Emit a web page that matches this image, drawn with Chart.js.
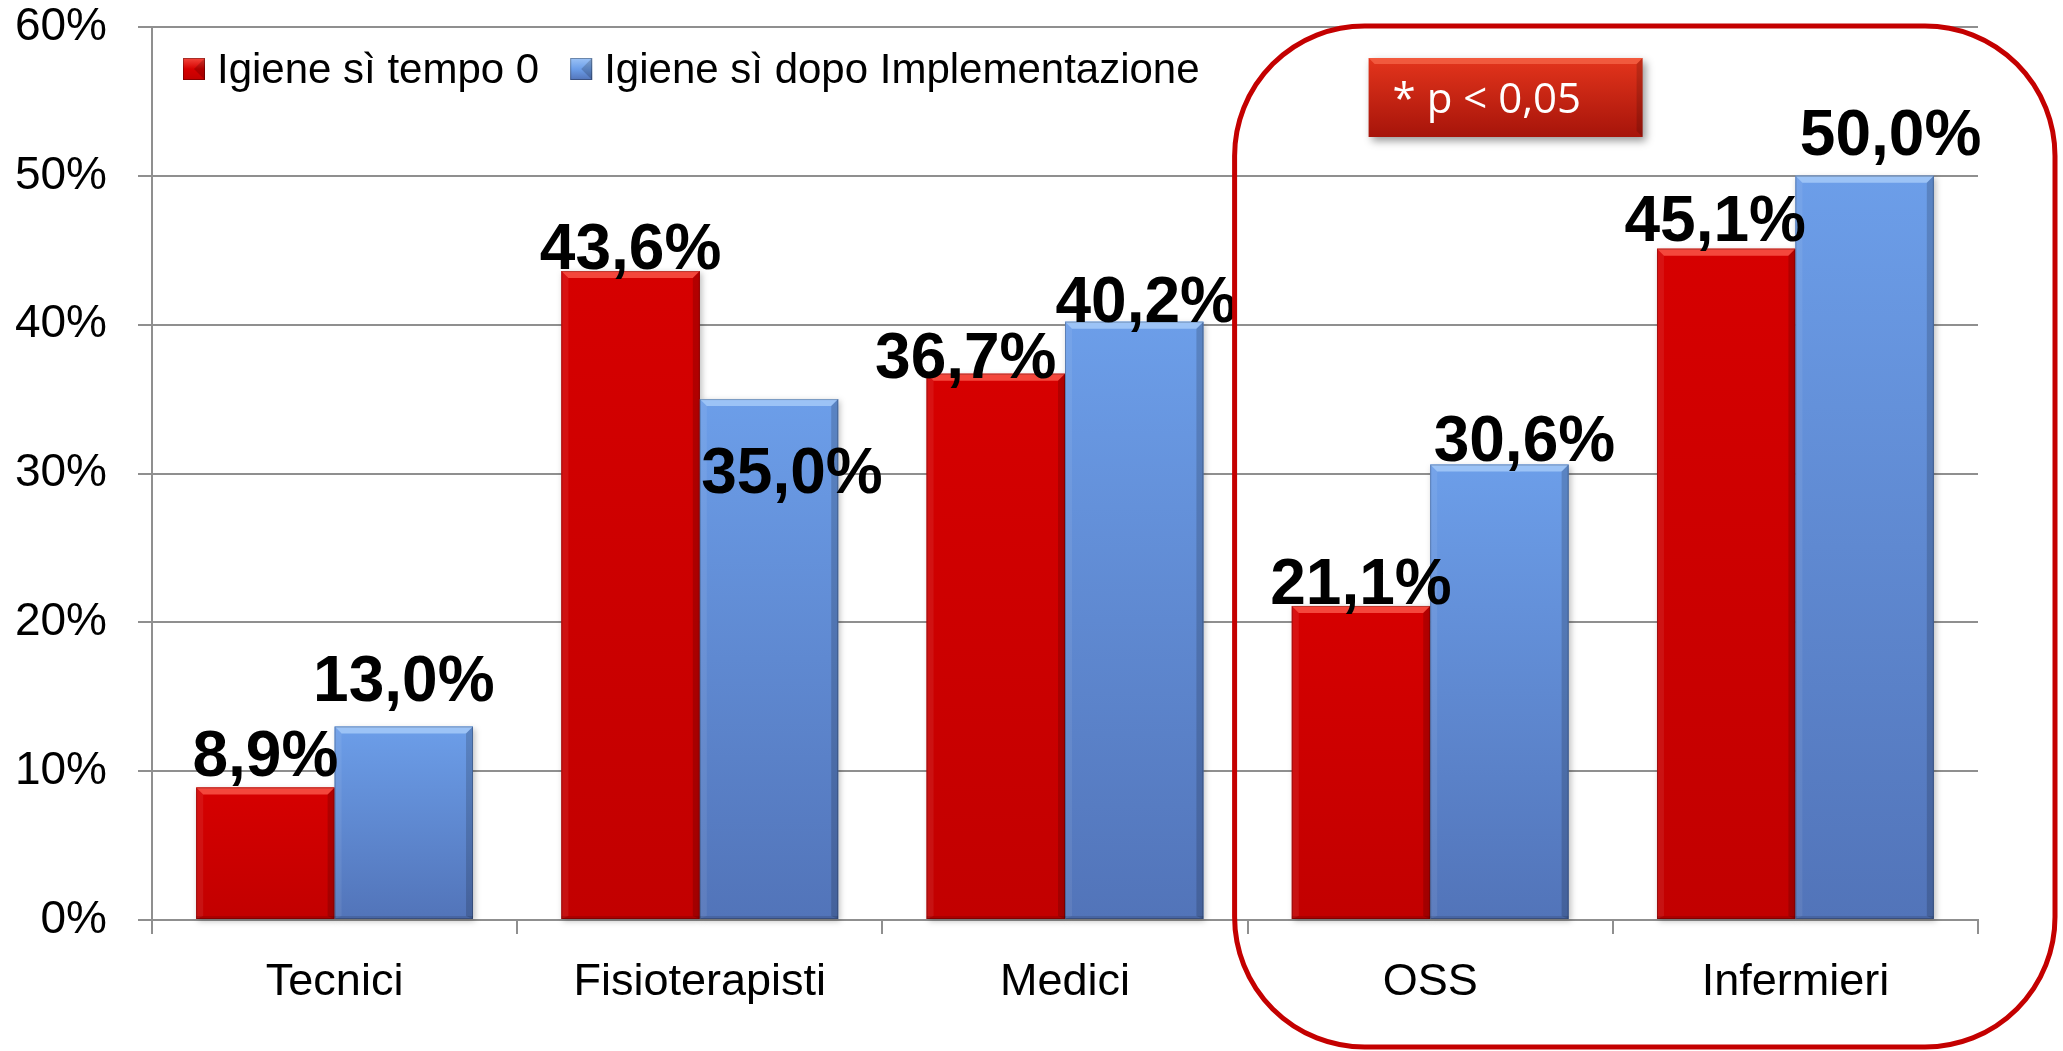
<!DOCTYPE html>
<html>
<head>
<meta charset="utf-8">
<script src="https://cdn.jsdelivr.net/npm/chart.js@4.4.0/dist/chart.umd.min.js"></script>
<style>
  html, body { margin: 0; padding: 0; background: #fff; }
  #wrap { width: 2063px; height: 1051px; position: relative; }
</style>
</head>
<body>
<div id="wrap"><canvas id="myChart"></canvas></div>
<script>
// dati
const categorie = ['Tecnici', 'Fisioterapisti', 'Medici', 'OSS', 'Infermieri'];
const tempo0 = [8.9, 43.6, 36.7, 21.1, 45.1];
const dopoImpl = [13.0, 35.0, 40.2, 30.6, 50.0];
const etichetteSerie = ['Igiene sì tempo 0', 'Igiene sì dopo Implementazione'];
const yMax = 60;
const yStep = 10;
const nota = '* p < 0,05';

const FONT = "'Liberation Sans', Arial, sans-serif";
const GRIGIO = '#8f8f8f';

// colori: [alto, basso, bordo chiaro]
const colori = [
  { top: '#d60000', bottom: '#c20000', light: '#f4473c' },
  { top: '#6c9ee9', bottom: '#5274b9', light: '#9cc3f6' }
];

/* barre con effetto rilievo */
const barreRilievo = {
  id: 'barreRilievo',
  afterDatasetsDraw(chart) {
    const ctx = chart.ctx;
    chart.data.datasets.forEach((ds, i) => {
      const c = colori[i];
      chart.getDatasetMeta(i).data.forEach((el) => {
        const x0 = el.x - el.width / 2, x1 = el.x + el.width / 2;
        const t = el.y, b = el.base, s = 7;
        ctx.save();
        ctx.shadowColor = 'rgba(0,0,0,0.25)';
        ctx.shadowBlur = 6;
        ctx.shadowOffsetX = 2;
        ctx.shadowOffsetY = 2;
        const g = ctx.createLinearGradient(0, t, 0, b);
        g.addColorStop(0, c.top);
        g.addColorStop(1, c.bottom);
        ctx.fillStyle = g;
        ctx.fillRect(x0, t, x1 - x0, b - t);
        ctx.restore();
        ctx.save();
        // bordo superiore
        ctx.fillStyle = c.light;
        ctx.beginPath();
        ctx.moveTo(x0, t); ctx.lineTo(x1, t); ctx.lineTo(x1 - s, t + s); ctx.lineTo(x0 + s, t + s);
        ctx.closePath(); ctx.fill();
        // bordo destro
        ctx.fillStyle = 'rgba(0,0,0,0.16)';
        ctx.beginPath();
        ctx.moveTo(x1, t); ctx.lineTo(x1, b); ctx.lineTo(x1 - s, b - 3); ctx.lineTo(x1 - s, t + s);
        ctx.closePath(); ctx.fill();
        // bordo sinistro
        ctx.fillStyle = 'rgba(255,255,255,0.07)';
        ctx.beginPath();
        ctx.moveTo(x0, t); ctx.lineTo(x0 + s, t + s); ctx.lineTo(x0 + s, b - 3); ctx.lineTo(x0, b);
        ctx.closePath(); ctx.fill();
        // bordo inferiore
        ctx.fillStyle = 'rgba(0,0,0,0.12)';
        ctx.fillRect(x0, b - 3, x1 - x0, 3);
        ctx.strokeStyle = 'rgba(0,0,0,0.22)';
        ctx.lineWidth = 1;
        ctx.strokeRect(x0 + 0.5, t + 0.5, x1 - x0 - 1, b - t - 1);
        ctx.restore();
      });
    });
  }
};

/* etichette dei valori */
const etichetteValori = {
  id: 'etichetteValori',
  afterDatasetsDraw(chart, args, opts) {
    const ctx = chart.ctx;
    ctx.save();
    ctx.font = 'bold 64px ' + FONT;
    ctx.fillStyle = '#000';
    ctx.textAlign = 'center';
    ctx.textBaseline = 'alphabetic';
    chart.data.datasets.forEach((ds, i) => {
      chart.getDatasetMeta(i).data.forEach((el, j) => {
        const sp = opts.spostamenti[i][j];
        const testo = ds.data[j].toFixed(1).replace('.', ',') + '%';
        ctx.fillText(testo, el.x + sp[0], el.y + sp[1]);
      });
    });
    ctx.restore();
  }
};

function quadratino(ctx, x, y, s, c) {
  const g = ctx.createLinearGradient(0, y, 0, y + s);
  g.addColorStop(0, c.light);
  g.addColorStop(0.5, c.top);
  g.addColorStop(1, c.bottom);
  ctx.fillStyle = g;
  ctx.fillRect(x, y, s, s);
  ctx.fillStyle = 'rgba(0,0,0,0.18)';
  ctx.beginPath();
  ctx.moveTo(x + s, y); ctx.lineTo(x + s, y + s); ctx.lineTo(x + s / 2, y + s / 2);
  ctx.closePath(); ctx.fill();
  ctx.strokeStyle = 'rgba(0,0,0,0.3)';
  ctx.lineWidth = 1;
  ctx.strokeRect(x + 0.5, y + 0.5, s - 1, s - 1);
}

/* legenda, riquadro rosso e nota p */
const decorazioni = {
  id: 'decorazioni',
  afterDraw(chart) {
    const ctx = chart.ctx;
    const ca = chart.chartArea;
    ctx.save();

    // legenda dentro l'area del grafico
    ctx.font = '42px ' + FONT;
    ctx.textBaseline = 'alphabetic';
    ctx.textAlign = 'left';
    let x = ca.left + 31;
    const ySq = ca.top + 31, sq = 22;
    etichetteSerie.forEach((lab, i) => {
      quadratino(ctx, x, ySq, sq, colori[i]);
      ctx.fillStyle = '#000';
      ctx.fillText(lab, x + sq + 12, ySq + 25);
      x += sq + 12 + ctx.measureText(lab).width + 31;
    });

    // riquadro arrotondato su OSS e Infermieri
    const xs = chart.scales.x;
    const half = (xs.getPixelForValue(1) - xs.getPixelForValue(0)) / 2;
    const rx = xs.getPixelForValue(3) - half - 13;
    const ry = ca.top - 1;
    const rw = 2055 - rx, rh = 1047 - ry;
    ctx.strokeStyle = '#c40000';
    ctx.lineWidth = 5;
    ctx.beginPath();
    ctx.roundRect(rx, ry, rw, rh, 130);
    ctx.stroke();

    // nota di significatività
    const bx = rx + 134, by = ca.top + 31, bw = 274, bh = 79;
    ctx.save();
    ctx.shadowColor = 'rgba(0,0,0,0.4)';
    ctx.shadowBlur = 8;
    ctx.shadowOffsetX = 3;
    ctx.shadowOffsetY = 4;
    const g = ctx.createLinearGradient(0, by, 0, by + bh);
    g.addColorStop(0, '#e4351c');
    g.addColorStop(1, '#a6140a');
    ctx.fillStyle = g;
    ctx.fillRect(bx, by, bw, bh);
    ctx.restore();
    ctx.fillStyle = 'rgba(255,120,90,0.55)';
    ctx.beginPath();
    ctx.moveTo(bx, by); ctx.lineTo(bx + bw, by); ctx.lineTo(bx + bw - 6, by + 6); ctx.lineTo(bx + 6, by + 6);
    ctx.closePath(); ctx.fill();
    ctx.fillStyle = 'rgba(0,0,0,0.15)';
    ctx.beginPath();
    ctx.moveTo(bx + bw, by); ctx.lineTo(bx + bw, by + bh); ctx.lineTo(bx + bw - 6, by + bh - 6); ctx.lineTo(bx + bw - 6, by + 6);
    ctx.closePath(); ctx.fill();
    ctx.fillStyle = '#fff';
    ctx.font = "42px 'Open Sans', 'Noto Sans', sans-serif";
    ctx.fillText(nota, bx + 24, by + 55);

    ctx.restore();
  }
};

const ctx = document.getElementById('myChart');

const dataset = {
  labels: categorie,
  datasets: [
    { label: etichetteSerie[0], data: tempo0, backgroundColor: colori[0].top },
    { label: etichetteSerie[1], data: dopoImpl, backgroundColor: colori[1].top }
  ]
};

const config = {
  type: 'bar',
  data: dataset,
  options: {
    responsive: true,
    maintainAspectRatio: false,
    animation: false,
    layout: { padding: { top: 27, right: 85, bottom: 0, left: 0 } },
    datasets: {
      bar: { categoryPercentage: 0.758, barPercentage: 1.0, borderWidth: 0 }
    },
    scales: {
      x: {
        grid: { drawOnChartArea: false, drawTicks: true, tickLength: 14, color: GRIGIO, lineWidth: 2 },
        border: { color: GRIGIO, width: 2 },
        ticks: { color: '#000', font: { family: FONT, size: 45 }, padding: 22 },
        afterFit: (s) => { s.height = 131; s.paddingLeft = 0; s.paddingRight = 0; }
      },
      y: {
        min: 0,
        max: yMax,
        grid: { color: GRIGIO, lineWidth: 2, tickLength: 14 },
        border: { color: GRIGIO, width: 2 },
        ticks: {
          stepSize: yStep,
          color: '#000',
          font: { family: FONT, size: 46 },
          padding: 31,
          callback: (v) => v + '%'
        },
        afterFit: (s) => { s.width = 152; s.paddingTop = 0; s.paddingBottom = 0; }
      }
    },
    plugins: {
      legend: { display: false },
      tooltip: { enabled: false },
      etichetteValori: {
        spostamenti: [
          [[0, -12], [0, -2], [-30, 4], [0, -2], [-11, -8]],
          [[0, -26], [23, 94], [12, 0], [25, -4], [26, -21]]
        ]
      }
    }
  },
  plugins: [barreRilievo, etichetteValori, decorazioni]
};

const chart = new Chart(ctx, config);
</script>
</body>
</html>
